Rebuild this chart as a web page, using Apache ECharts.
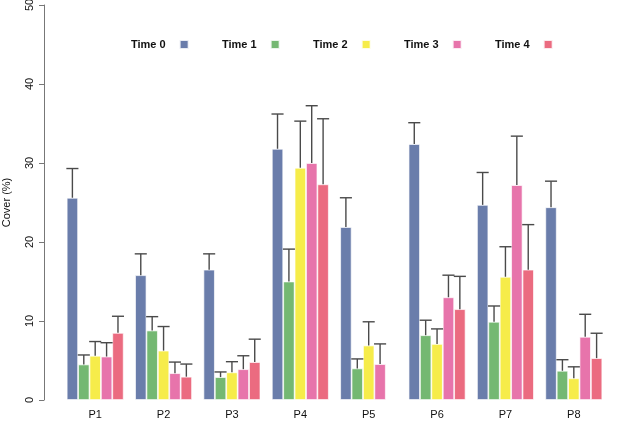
<!DOCTYPE html>
<html>
<head>
<meta charset="utf-8">
<script src="https://cdn.jsdelivr.net/npm/echarts@6/dist/echarts.min.js"></script>
<style>html,body{margin:0;padding:0;background:#fff}#c{width:624px;height:422px}</style>
</head>
<body>
<div id="c"></div>
<script>
const categories = ['P1','P2','P3','P4','P5','P6','P7','P8'];
const seriesNames = ['Time 0','Time 1','Time 2','Time 3','Time 4'];
const time0 = [25.6, 15.8, 16.5, 31.8, 21.9, 32.4, 24.7, 24.4];
const time0Err = [29.3, 18.5, 18.5, 36.2, 25.6, 35.1, 28.8, 27.7];
const time1 = [4.5, 8.8, 2.9, 15.0, 4.0, 8.2, 9.9, 3.7];
const time1Err = [5.7, 10.55, 3.55, 19.1, 5.2, 10.1, 11.9, 5.1];
const time2 = [5.6, 6.25, 3.5, 29.4, 6.9, 7.1, 15.6, 2.75];
const time2Err = [7.4, 9.3, 4.85, 35.3, 9.9, 9.0, 19.4, 4.2];
const time3 = [5.5, 3.4, 3.9, 30.0, 4.55, 13.0, 27.2, 8.0];
const time3Err = [7.25, 4.8, 5.6, 37.25, 7.1, 15.8, 33.4, 10.85];
const time4 = [8.5, 2.95, 4.8, 27.3, null, 11.5, 16.5, 5.3];
const time4Err = [10.6, 4.55, 7.7, 35.6, null, 15.65, 22.2, 8.45];
const yTicks = [0, 10, 20, 30, 40, 50];

const colors = ['#6a7dab', '#74b872', '#f6ec4a', '#e774ab', '#eb6b80'];
const values = [time0, time1, time2, time3, time4];
const errs = [time0Err, time1Err, time2Err, time3Err, time4Err];
const font = 'Liberation Sans, Arial, Helvetica, sans-serif';

const chart = echarts.init(document.getElementById('c'), null, {renderer: 'canvas'});

function errRenderer(si) {
  return function (params, api) {
    const cat = api.value(0);
    const v = api.value(1);
    const e = api.value(2);
    if (v == null || e == null || isNaN(v) || isNaN(e)) return null;
    const band = api.size([1, 0])[0];
    const bw = band / 6;
    const cx = api.coord([cat, 0])[0] + (si - 2) * bw;
    const yT = api.coord([cat, e])[1];
    const yB = api.coord([cat, v])[1];
    const half = bw * 0.53;
    const st = {stroke: '#4a4a4a', lineWidth: 1.4};
    return {
      type: 'group',
      children: [
        {type: 'line', shape: {x1: cx, y1: yB, x2: cx, y2: yT}, style: st},
        {type: 'line', shape: {x1: cx - half, y1: yT, x2: cx + half, y2: yT}, style: st}
      ]
    };
  };
}

const series = [];
seriesNames.forEach((n, i) => {
  series.push({
    name: n, type: 'bar', data: values[i], barGap: 0, barCategoryGap: '16.67%',
    itemStyle: {color: colors[i], borderColor: 'rgba(255,255,255,0.85)', borderWidth: 0.8},
    emphasis: {disabled: true}
  });
});
seriesNames.forEach((n, i) => {
  series.push({
    type: 'custom', name: n + ' err', z: 5,
    renderItem: errRenderer(i),
    encode: {x: 0, y: [1, 2]},
    data: categories.map((c, k) => [k, values[i][k], errs[i][k]]),
    silent: true
  });
});

const legendLefts = [131, 222, 313, 404, 495];
const legends = seriesNames.map((n, i) => ({
  data: [n], left: legendLefts[i], top: 39, padding: 0, align: 'right',
  itemWidth: 9, itemHeight: 9, icon: 'rect', selectedMode: false,
  textStyle: {fontFamily: font, fontWeight: 'bold', fontSize: 11, color: '#111', padding: [0, 9, 0, 0]}
}));

chart.setOption({
  animation: false,
  backgroundColor: '#fff',
  legend: legends,
  grid: {left: 61, right: 16, top: 5, bottom: 22, containLabel: false, outerBoundsMode: 'none'},
  xAxis: {
    type: 'category', data: categories,
    axisLine: {show: false}, axisTick: {show: false},
    axisLabel: {fontFamily: font, fontSize: 11, color: '#111', margin: 9}
  },
  yAxis: {
    type: 'value', min: yTicks[0], max: yTicks[yTicks.length - 1], interval: 10,
    offset: 17,
    name: 'Cover (%)', nameLocation: 'middle', nameGap: 32, nameRotate: 90,
    nameTextStyle: {fontFamily: font, fontSize: 11, color: '#111'},
    axisLine: {show: true, lineStyle: {color: '#777', width: 1}},
    axisTick: {show: true, length: 5, lineStyle: {color: '#777'}},
    splitLine: {show: false},
    axisLabel: {fontFamily: font, fontSize: 11, color: '#111', rotate: 90, margin: 9}
  },
  series: series
});
</script>
</body>
</html>
